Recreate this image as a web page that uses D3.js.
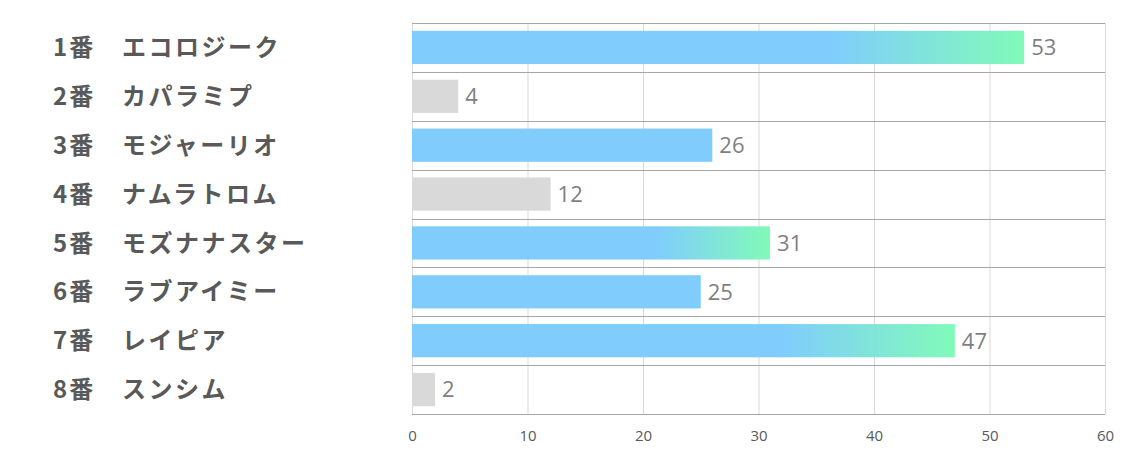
<!DOCTYPE html>
<html><head><meta charset="utf-8">
<script src="https://cdn.jsdelivr.net/npm/d3@7"></script>
<style>html,body{margin:0;padding:0;background:#fff;}</style>
</head><body>
<svg id="c" width="1134" height="453"></svg>
<script>
const numbers = ["1番","2番","3番","4番","5番","6番","7番","8番"];
const names = ["エコロジーク","カパラミプ","モジャーリオ","ナムラトロム","モズナナスター","ラブアイミー","レイピア","スンシム"];
const values = [53,4,26,12,31,25,47,2];
const barKind = ["gradient","gray","blue","gray","gradient","blue","gradient","gray"];
const ticks = [0,10,20,30,40,50,60];

const svg = d3.select("#c");
const x = d3.scaleLinear().domain([0,60]).range([412,1105]);
const y = d3.scaleBand().domain(d3.range(values.length)).range([23,414]).paddingInner(0.32).paddingOuter(0.16);
const rowY = d3.scaleBand().domain(d3.range(values.length)).range([23,414]);

const defs = svg.append("defs");
const g = defs.append("linearGradient").attr("id","grad").attr("x1","0").attr("x2","1").attr("y1","0").attr("y2","0");
g.append("stop").attr("offset","0.68").attr("stop-color","#7ccbfd");
g.append("stop").attr("offset","1").attr("stop-color","#7dfab6");

// vertical grid
svg.append("g").selectAll("line").data(ticks).join("line")
  .attr("x1",d=>x(d)+0.5).attr("x2",d=>x(d)+0.5).attr("y1",23).attr("y2",414)
  .attr("stroke","#d9d9d9").attr("stroke-width",1);
// horizontal row lines
svg.append("g").selectAll("line").data(d3.range(values.length+1)).join("line")
  .attr("x1",412).attr("x2",1105)
  .attr("y1",d=>Math.round(d<values.length?rowY(d):414)+0.5)
  .attr("y2",d=>Math.round(d<values.length?rowY(d):414)+0.5)
  .attr("stroke","#a6a6a6").attr("stroke-width",1);

// bars
svg.append("g").selectAll("rect").data(values).join("rect")
  .attr("x",x(0)).attr("y",(d,i)=>y(i)).attr("height",y.bandwidth())
  .attr("width",d=>x(d)-x(0))
  .attr("fill",(d,i)=>barKind[i]==="gray"?"#d9d9d9":(barKind[i]==="blue"?"#7ccbfd":"url(#grad)"))
  .attr("opacity",(d,i)=>barKind[i]==="gray"?1:0.97);

// value labels
svg.append("g").selectAll("text").data(values).join("text")
  .attr("x",d=>x(d)+7).attr("y",(d,i)=>y(i)+y.bandwidth()/2)
  .attr("dy","0.36em")
  .attr("font-family","'Open Sans', sans-serif").attr("font-size",22)
  .attr("fill","#7f7f7f").text(d=>d);

// category labels
const lab = svg.append("g").selectAll("g").data(values).join("g")
  .attr("transform",(d,i)=>`translate(0,${y(i)+y.bandwidth()/2})`);
lab.append("text").attr("x",53).attr("dy","0.36em")
  .attr("font-family","'Noto Sans CJK JP', sans-serif").attr("font-weight","bold")
  .attr("font-size",24).attr("letter-spacing",2).attr("fill","#595959").text((d,i)=>numbers[i]);
lab.append("text").attr("x",122).attr("dy","0.36em")
  .attr("font-family","'Noto Sans CJK JP', sans-serif").attr("font-weight","bold")
  .attr("font-size",24).attr("letter-spacing",2.5).attr("fill","#595959").text((d,i)=>names[i]);

// x axis
const ax = svg.append("g").attr("transform","translate(0,414)")
  .call(d3.axisBottom(x).tickValues(ticks).tickSize(0).tickPadding(16));
ax.select(".domain").remove();
ax.selectAll("text").attr("font-family","'Open Sans', sans-serif")
  .attr("font-size",15).attr("fill","#595959");
</script>
</body></html>
